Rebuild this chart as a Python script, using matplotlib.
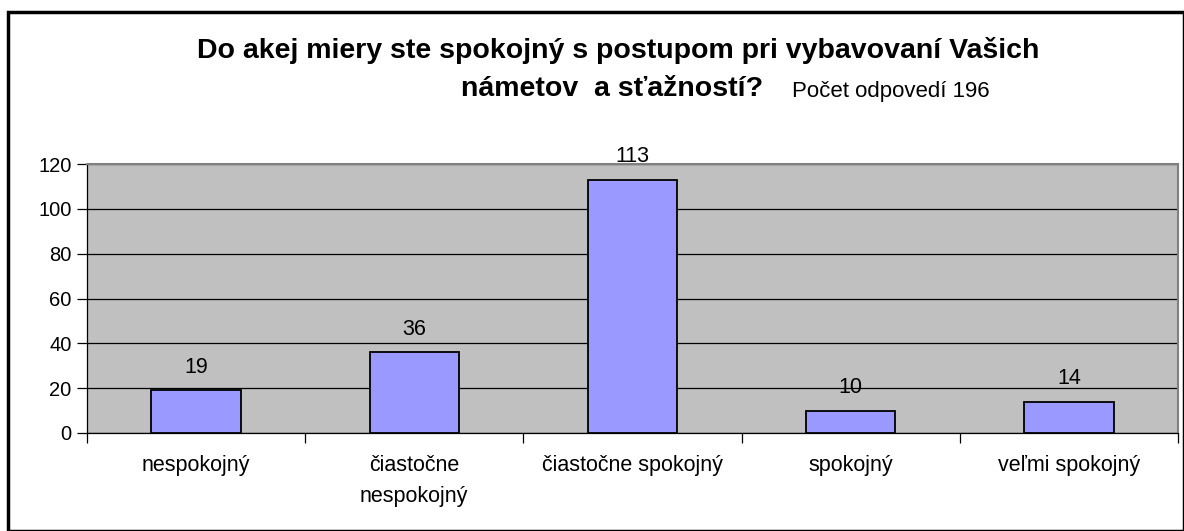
import matplotlib
matplotlib.use("Agg")
import matplotlib.pyplot as plt
from matplotlib.patches import Rectangle

categories = ["nespokojný", "čiastočne\nnespokojný", "čiastočne spokojný", "spokojný", "veľmi spokojný"]
values = [19, 36, 113, 10, 14]
yticks = [0, 20, 40, 60, 80, 100, 120]
title_lines = ["Do akej miery ste spokojný s postupom pri vybavovaní Vašich", "námetov  a sťažností?"]
note = "Počet odpovedí 196"

plt.rcParams['font.family'] = ['Liberation Sans', 'DejaVu Sans']

fig = plt.figure(figsize=(11.84, 5.31), dpi=100)
W, H = 1184, 531
ax = fig.add_axes([87 / W, 1 - 433 / H, (1178 - 87) / W, (433 - 164) / H])
ax.set_facecolor('#C0C0C0')

x = list(range(len(categories)))
bars = ax.bar(x, values, width=0.41, color='#9999FF', edgecolor='black', linewidth=1.3, zorder=3)
for xi, v in zip(x, values):
    ax.annotate(str(v), (xi, v), xytext=(0, 9), textcoords='offset points',
                ha='center', va='bottom', fontsize=15.5, color='black', annotation_clip=False)

ax.set_xlim(-0.5, len(categories) - 0.5)
ax.set_ylim(0, 120)
ax.set_yticks(yticks)
ax.set_yticklabels([str(t) for t in yticks], fontsize=14.5)
ax.yaxis.grid(True, color='black', linewidth=0.9, zorder=1)
ax.set_axisbelow(True)

ax.set_xticks(x)
ax.set_xticklabels(categories, fontsize=15.5, linespacing=1.6)
ax.tick_params(axis='x', length=0, pad=16)
ax.set_xticks([i + 0.5 for i in range(-1, len(categories))], minor=True)
ax.tick_params(axis='x', which='minor', length=7, width=0.9, direction='out')
ax.tick_params(axis='y', length=7, width=0.9, direction='out', pad=4)

for s in ['left', 'bottom']:
    ax.spines[s].set_color('black')
    ax.spines[s].set_linewidth(0.9)
for s in ['top', 'right']:
    ax.spines[s].set_color('#808080')
    ax.spines[s].set_linewidth(1.5)

fig.text(618 / W, 1 - 51 / H, title_lines[0],
         ha='center', va='center', fontsize=20.5, fontweight='bold')
fig.text(612 / W, 1 - 89 / H, title_lines[1],
         ha='center', va='center', fontsize=20.5, fontweight='bold')
fig.text(792 / W, 1 - 92 / H, note, ha='left', va='center', fontsize=16)

fig.add_artist(Rectangle((8 / W, 0), 1 - 8 / W, 1 - 12 / H, transform=fig.transFigure,
                         fill=False, edgecolor='black', linewidth=2.5))

fig.savefig("out.png", dpi=100)
